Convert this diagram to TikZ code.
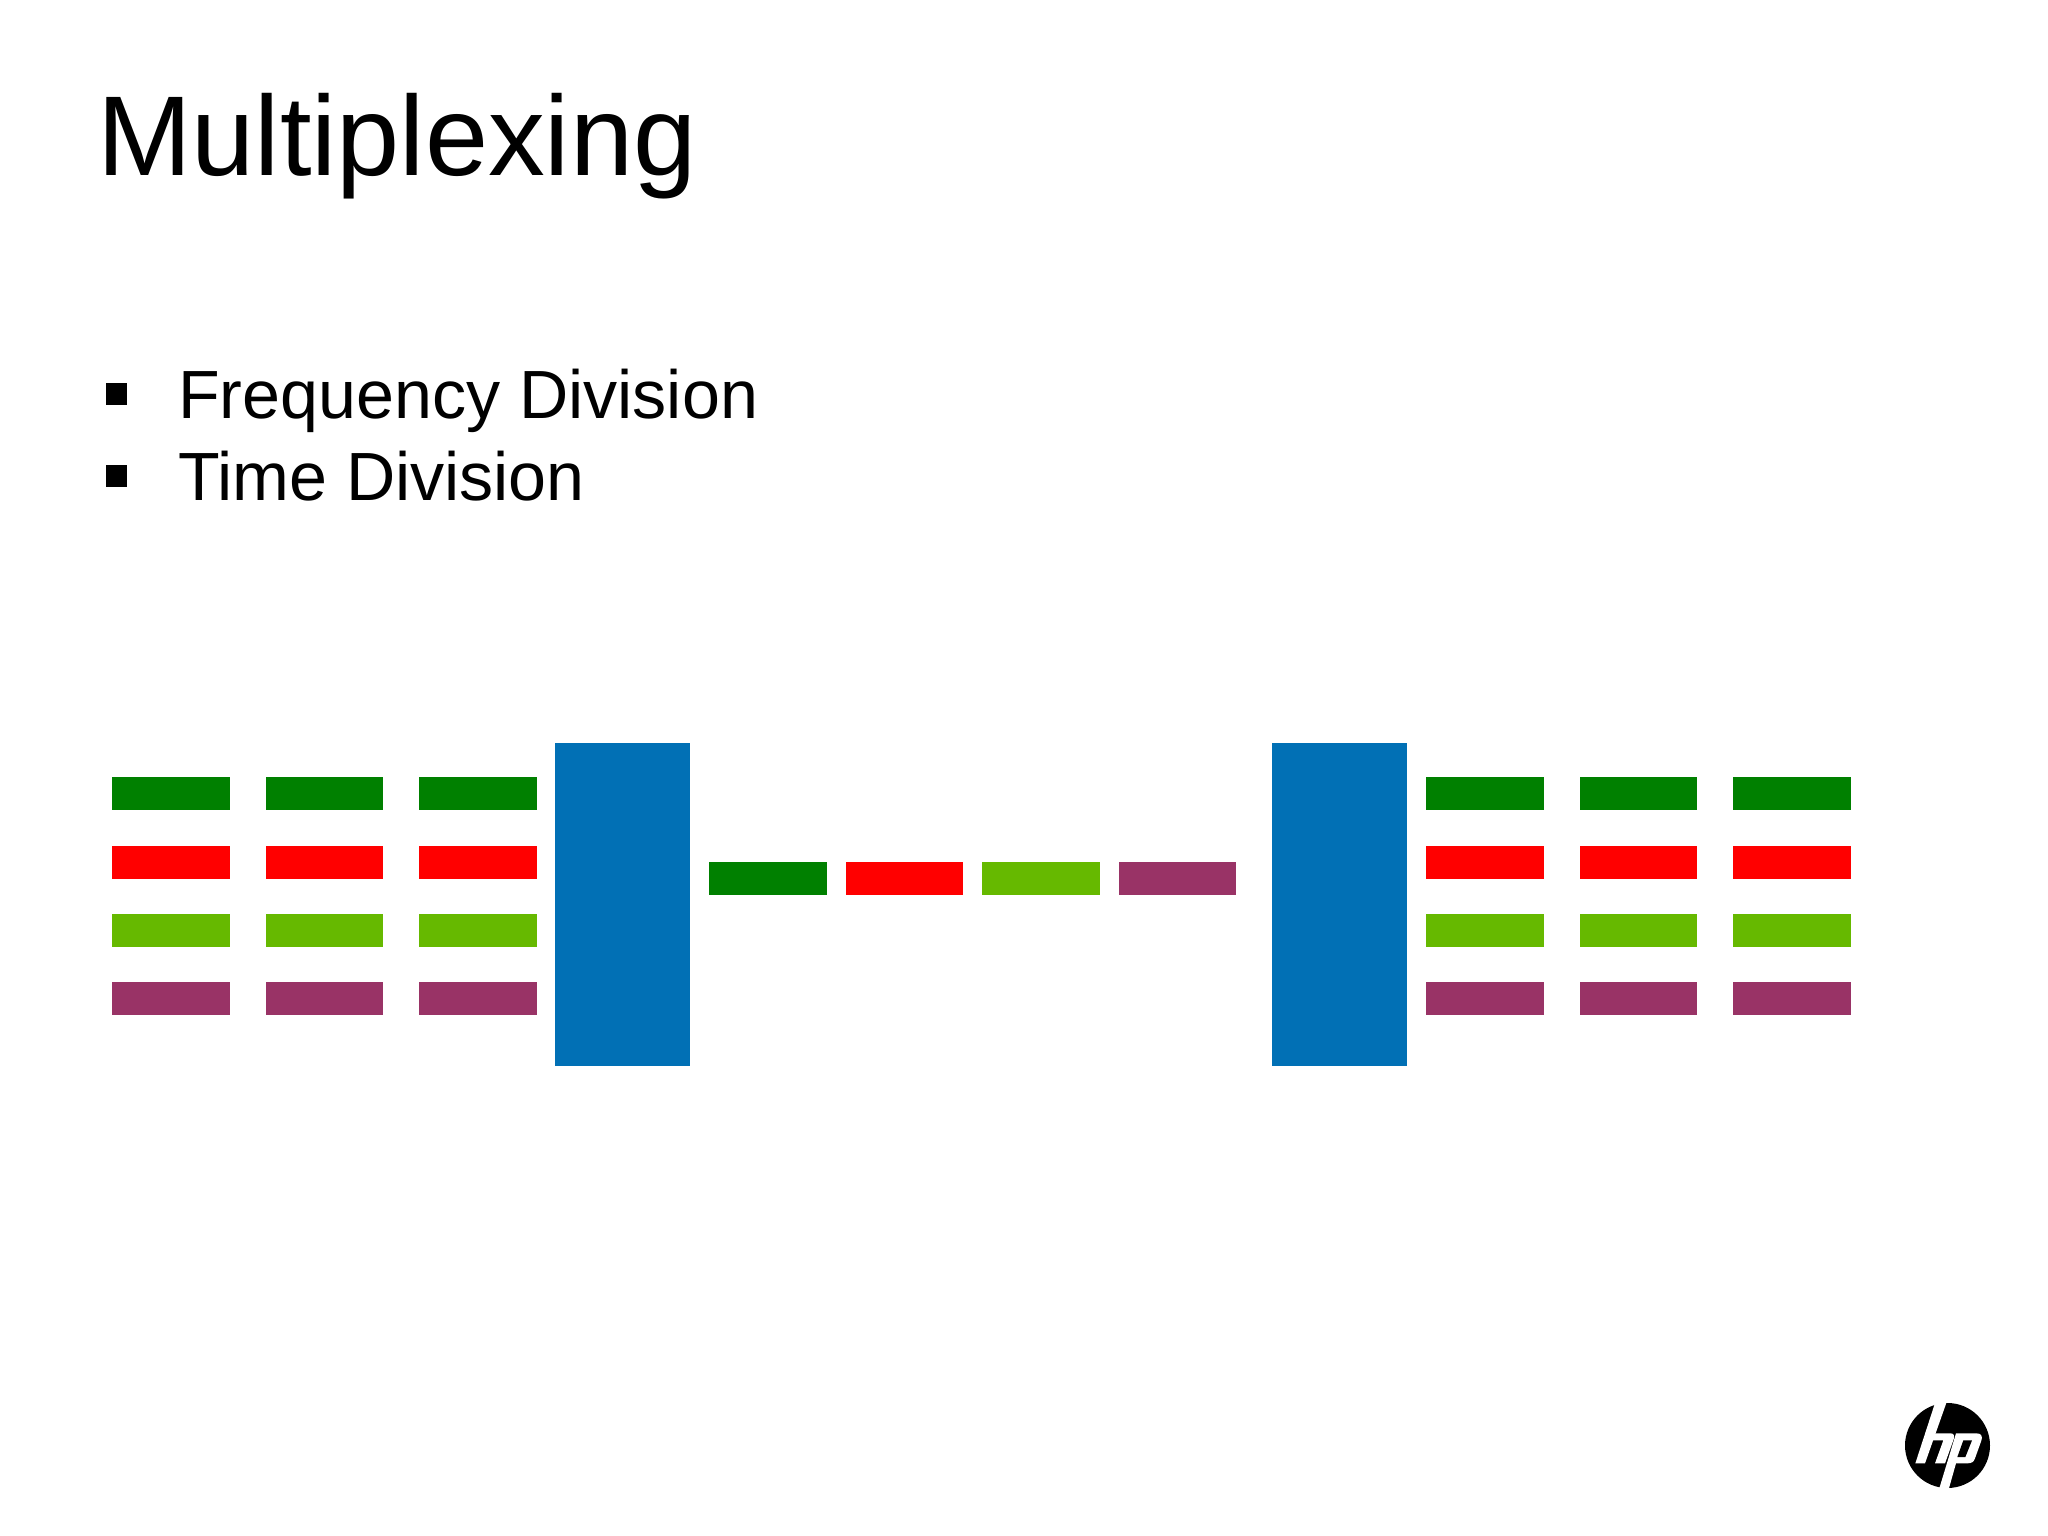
\documentclass[tikz,border=0pt]{standalone}
\usepackage{fontspec}
\setmainfont{Liberation Sans}
\definecolor{cgreen}{HTML}{008000}
\definecolor{cred}{HTML}{FF0000}
\definecolor{clime}{HTML}{66B900}
\definecolor{cpurple}{HTML}{993366}
\definecolor{cblue}{HTML}{0170B5}
\tikzset{
  titletext/.style={anchor=base west,inner sep=0pt,font=\fontsize{113.5}{113.5}\selectfont},
  bodytext/.style={anchor=base west,inner sep=0pt,font=\fontsize{68.2}{68.2}\selectfont},
  bar/.style={anchor=north west,inner sep=0pt,minimum width=117.5pt,minimum height=33pt,fill=#1},
  muxbox/.style={anchor=north west,inner sep=0pt,minimum width=134.5pt,minimum height=322.5pt,fill=cblue},
  bulletbox/.style={anchor=north west,inner sep=0pt,minimum width=21pt,minimum height=22pt,fill=black},
}
\begin{document}
\begin{tikzpicture}[x=1pt,y=-1pt]
\useasboundingbox (0,0) rectangle (2048,1536);
\fill[white] (0,0) rectangle (2048,1536);
\node[titletext] (title) at (97,175.5) {Multiplexing};
\node[bulletbox] (b1) at (106,383) {};
\node[bulletbox] (b2) at (106,465) {};
\node[bodytext] (t1) at (178,418) {Frequency Division};
\node[bodytext] (t2) at (178,500) {Time Division};
\foreach \x [count=\i] in {112,265.5,419,1426,1579.5,1733}{
  \foreach \y/\c [count=\j] in {777/cgreen,845.5/cred,913.5/clime,982/cpurple}{
    \node[bar=\c] (r\i-\j) at (\x,\y) {};
  }
}
\node[muxbox] (muxl) at (555.2,743.2) {};
\node[muxbox] (muxr) at (1272,743.2) {};
\foreach \x/\c [count=\i] in {709/cgreen,845.5/cred,982/clime,1118.5/cpurple}{
  \node[bar=\c] (m\i) at (\x,862) {};
}
\begin{scope}[shift={(1880,1380)},x=0.3333pt,y=-0.3333pt]
\fill[black] (202.5,196.5) circle (127.5);
\fill[white] (166,66) -- (200,66) -- (135,250) -- (106,250) -- cycle;
\fill[white] (150,160) -- (212,160) .. controls (222,160) and (224,168) .. (221,178) -- (195,250) -- (165,250) -- (190,181) -- (143,181) -- cycle;
\fill[white] (228,160) -- (290,160) .. controls (305,160) and (308,170) .. (304,182) -- (285,235) .. controls (281,246) and (275,250) .. (262,250) -- (228,250) -- (206,328) -- (177,328) -- cycle;
\fill[black] (250,181) -- (276,181) -- (256,231) -- (232,231) -- cycle;
\end{scope}
\end{tikzpicture}
\end{document}
